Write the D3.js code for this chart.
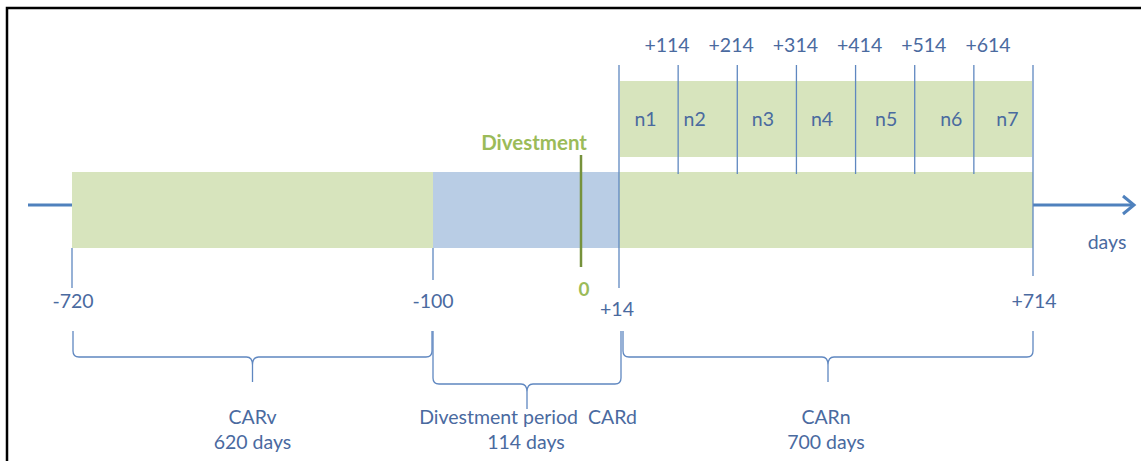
<!DOCTYPE html>
<html>
<head>
<meta charset="utf-8">
<script src="https://cdn.jsdelivr.net/npm/d3@7"></script>
<style>
  body { margin: 0; background: #fff; }
  svg text { font-family: Lato, "Open Sans", sans-serif; white-space: pre; }
</style>
</head>
<body>
<div id="chart"></div>
<script>
// timeline pieces (days relative to divestment)
const segStart = [-720, -100, 14];
const segEnd = [-100, 14, 714];
const segColor = ["#d7e4bd", "#b9cde5", "#d7e4bd"];

const mainTicks = [-720, -100, 14, 714];
const mainTickLabels = ["-720", "-100", "+14", "+714"];

const subTicks = [114, 214, 314, 414, 514, 614];
const subTickLabels = ["+114", "+214", "+314", "+414", "+514", "+614"];

const windowNames = ["n1", "n2", "n3", "n4", "n5", "n6", "n7"];
const windowEdges = [14, 114, 214, 314, 414, 514, 614, 714];

const periodNames = ["CARv", "Divestment period  CARd", "CARn"];
const periodDays = ["620 days", "114 days", "700 days"];

const eventDay = 0;

const W = 1141, H = 461;
const fs = 19.5;
const textColor = "#4a6a9f";
const lineColor = "#5f87c0";

const svg = d3.select("#chart")
    .append("svg")
    .attr("width", W)
    .attr("height", H);

// schematic, not to scale: piecewise linear
const x = d3.scaleLinear()
    .domain([-720, -100, 0, 14, 714])
    .range([72, 433, 581, 619, 1033]);

// top labels drift a bit from their ticks in the original
const xLab = d3.scaleLinear().domain([114, 614]).range([667, 988]);

// frame (left + top only visible)
svg.append("path")
    .attr("d", "M7,461 V8 H1141")
    .attr("fill", "none")
    .attr("stroke", "#000")
    .attr("stroke-width", 2.5);

// axis arrow
svg.append("line")
    .attr("x1", 28).attr("x2", x(-720))
    .attr("y1", 205).attr("y2", 205)
    .attr("stroke", "#4f81bd").attr("stroke-width", 3);
svg.append("line")
    .attr("x1", x(714)).attr("x2", 1133)
    .attr("y1", 205).attr("y2", 205)
    .attr("stroke", "#4f81bd").attr("stroke-width", 3);
svg.append("path")
    .attr("d", "M1123,196 L1134,205 L1123,214")
    .attr("fill", "none")
    .attr("stroke", "#4f81bd").attr("stroke-width", 3);

svg.append("text")
    .attr("x", 1107).attr("y", 249)
    .attr("text-anchor", "middle")
    .attr("font-size", fs)
    .attr("fill", textColor)
    .text("days");

// upper band of sub-windows
svg.append("rect")
    .attr("x", x(14) + 1)
    .attr("y", 81)
    .attr("width", x(714) - x(14) - 2)
    .attr("height", 76)
    .attr("fill", "#d7e4bd");

// main bar
svg.selectAll("rect.seg")
    .data(segStart)
    .enter()
    .append("rect")
    .attr("class", "seg")
    .attr("x", d => x(d))
    .attr("y", 172)
    .attr("width", (d, i) => x(segEnd[i]) - x(d))
    .attr("height", 76)
    .attr("fill", (d, i) => segColor[i]);

// sub ticks
svg.selectAll("line.sub")
    .data(subTicks)
    .enter()
    .append("line")
    .attr("x1", d => x(d)).attr("x2", d => x(d))
    .attr("y1", 65).attr("y2", 174)
    .attr("stroke", lineColor).attr("stroke-width", 1.3);

svg.selectAll("text.sub")
    .data(subTicks)
    .enter()
    .append("text")
    .attr("x", d => xLab(d))
    .attr("y", 52)
    .attr("text-anchor", "middle")
    .attr("font-size", fs)
    .attr("fill", textColor)
    .text((d, i) => subTickLabels[i]);

// label nudges inside the windows, as placed in the original
const winDx = [-3, -13, -4, -4, 1, 7, 4];

svg.selectAll("text.win")
    .data(windowNames)
    .enter()
    .append("text")
    .attr("x", (d, i) => (x(windowEdges[i]) + x(windowEdges[i + 1])) / 2 + winDx[i])
    .attr("y", 126)
    .attr("text-anchor", "middle")
    .attr("font-size", fs)
    .attr("fill", textColor)
    .text(d => d);

// main ticks
const tickTop = [248, 248, 65, 65];
const tickBottom = [288, 280, 288, 276];
const labelY = [308, 308, 316, 308];
const labelDx = [1, 0, -2, 1];

svg.selectAll("line.main")
    .data(mainTicks)
    .enter()
    .append("line")
    .attr("x1", d => x(d)).attr("x2", d => x(d))
    .attr("y1", (d, i) => tickTop[i]).attr("y2", (d, i) => tickBottom[i])
    .attr("stroke", lineColor).attr("stroke-width", 1.3);

svg.selectAll("text.main")
    .data(mainTicks)
    .enter()
    .append("text")
    .attr("x", (d, i) => x(d) + labelDx[i])
    .attr("y", (d, i) => labelY[i])
    .attr("text-anchor", "middle")
    .attr("font-size", fs)
    .attr("fill", textColor)
    .text((d, i) => mainTickLabels[i]);

// divestment event
svg.append("line")
    .attr("x1", x(eventDay)).attr("x2", x(eventDay))
    .attr("y1", 155).attr("y2", 267)
    .attr("stroke", "#76923c").attr("stroke-width", 2.5);
svg.append("text")
    .attr("x", x(eventDay) + 6).attr("y", 150)
    .attr("text-anchor", "end")
    .attr("font-size", 20.5)
    .attr("font-weight", "bold")
    .attr("fill", "#9bbb59")
    .text("Divestment");
svg.append("text")
    .attr("x", x(eventDay) + 3).attr("y", 296)
    .attr("text-anchor", "middle")
    .attr("font-size", 19)
    .attr("font-weight", "bold")
    .attr("fill", "#9bbb59")
    .text(eventDay);

// braces under each period
const braceBar = [357, 384, 357];
const bracePad = [1, 0, 4];
const braceEndDx = [-1, 2, 0];

function bracePath(x0, x1, top, bar) {
    const m = (x0 + x1) / 2, r = 6, tip = bar + 25;
    const p = d3.path();
    p.moveTo(x0, top);
    p.lineTo(x0, bar - r);
    p.quadraticCurveTo(x0, bar, x0 + r, bar);
    p.lineTo(m - r, bar);
    p.quadraticCurveTo(m, bar, m, tip - 17);
    p.lineTo(m, tip);
    p.moveTo(m, tip - 17);
    p.quadraticCurveTo(m, bar, m + r, bar);
    p.lineTo(x1 - r, bar);
    p.quadraticCurveTo(x1, bar, x1, bar - r);
    p.lineTo(x1, top);
    return p.toString();
}

svg.selectAll("path.brace")
    .data(segStart)
    .enter()
    .append("path")
    .attr("class", "brace")
    .attr("d", (d, i) => bracePath(x(d) + bracePad[i], x(segEnd[i]) + braceEndDx[i], 331, braceBar[i]))
    .attr("fill", "none")
    .attr("stroke", lineColor)
    .attr("stroke-width", 1.3);

svg.selectAll("text.pname")
    .data(periodNames)
    .enter()
    .append("text")
    .attr("x", (d, i) => (x(segStart[i]) + x(segEnd[i])) / 2 + (i === 1 ? 2 : 0))
    .attr("y", 424)
    .attr("text-anchor", "middle")
    .attr("font-size", fs)
    .attr("fill", textColor)
    .text(d => d);

svg.selectAll("text.pdays")
    .data(periodDays)
    .enter()
    .append("text")
    .attr("x", (d, i) => (x(segStart[i]) + x(segEnd[i])) / 2)
    .attr("y", 449)
    .attr("text-anchor", "middle")
    .attr("font-size", fs)
    .attr("fill", textColor)
    .text(d => d);
</script>
</body>
</html>
